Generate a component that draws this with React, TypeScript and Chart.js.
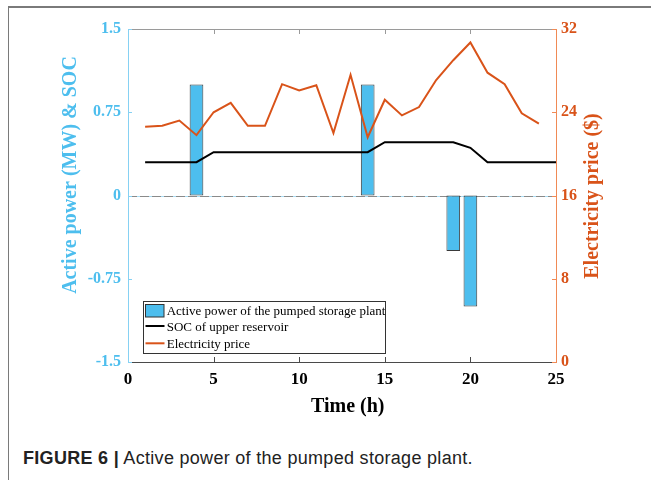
import React, { useEffect, useRef } from "react";
import { Chart, registerables } from "chart.js";

Chart.register(...registerables);

// ---- data ----
const hours = [1, 2, 3, 4, 5, 6, 7, 8, 9, 10, 11, 12, 13, 14, 15, 16, 17, 18, 19, 20, 21, 22, 23, 24];
const socHours = [1, 2, 3, 4, 5, 6, 7, 8, 9, 10, 11, 12, 13, 14, 15, 16, 17, 18, 19, 20, 21, 22, 23, 24, 25];
const power = [0, 0, 0, 1, 0, 0, 0, 0, 0, 0, 0, 0, 0, 1, 0, 0, 0, 0, -0.5, -1, 0, 0, 0, 0];
const soc = [0.3, 0.3, 0.3, 0.3, 0.39, 0.39, 0.39, 0.39, 0.39, 0.39, 0.39, 0.39, 0.39, 0.39, 0.48, 0.48, 0.48, 0.48, 0.48, 0.43, 0.3, 0.3, 0.3, 0.3, 0.3];
const price = [22.6, 22.7, 23.2, 21.8, 24.0, 24.9, 22.7, 22.7, 26.7, 26.1, 26.6, 22.0, 27.6, 21.6, 25.2, 23.7, 24.5, 27.1, 29.0, 30.7, 27.8, 26.7, 23.9, 22.9];

const xTicks = [0, 5, 10, 15, 20, 25];
const leftTicks = [-1.5, -0.75, 0, 0.75, 1.5];
const rightTicks = [0, 8, 16, 24, 32];

const seriesNames = ["Active power of the pumped storage plant", "SOC of upper reservoir", "Electricity price"];
const xTitle = "Time (h)";
const leftTitle = "Active power (MW) & SOC";
const rightTitle = "Electricity price ($)";

// ---- styles ----
const SERIF = "'Liberation Serif', 'Times New Roman', serif";
const BLUE = "#4DBEEE";
const ORANGE = "#D95319";

const framePlugin = {
  id: "frame",
  beforeDatasetsDraw(chart: any) {
    const { ctx, chartArea } = chart;
    const { left, right } = chartArea;
    const y0 = Math.round(chart.scales.y.getPixelForValue(0)) + 0.5;
    ctx.save();
    ctx.lineWidth = 1;
    ctx.strokeStyle = "#a9dcf3";
    ctx.beginPath();
    ctx.moveTo(left, y0);
    ctx.lineTo(right, y0);
    ctx.stroke();
    ctx.setLineDash([9, 3]);
    ctx.strokeStyle = "#8a8a8a";
    ctx.beginPath();
    ctx.moveTo(left, y0);
    ctx.lineTo(right, y0);
    ctx.stroke();
    ctx.restore();
  },
  afterDraw(chart: any) {
    const { ctx, chartArea } = chart;
    const { left, right, top, bottom } = chartArea;
    const sx = chart.scales.x;
    const sy = chart.scales.y;
    const sy1 = chart.scales.y1;
    ctx.save();
    ctx.lineWidth = 1;
    // top border
    ctx.strokeStyle = "#9a9a9a";
    ctx.beginPath();
    ctx.moveTo(left, top + 0.5);
    ctx.lineTo(right, top + 0.5);
    ctx.stroke();
    xTicks.forEach((v) => {
      const px = Math.round(sx.getPixelForValue(v)) + 0.5;
      ctx.beginPath();
      ctx.moveTo(px, top);
      ctx.lineTo(px, top + 5);
      ctx.stroke();
    });
    // bottom border
    ctx.strokeStyle = "#4a4a4a";
    ctx.beginPath();
    ctx.moveTo(left, bottom + 0.5);
    ctx.lineTo(right, bottom + 0.5);
    ctx.stroke();
    xTicks.forEach((v) => {
      const px = Math.round(sx.getPixelForValue(v)) + 0.5;
      ctx.beginPath();
      ctx.moveTo(px, bottom);
      ctx.lineTo(px, bottom - 5);
      ctx.stroke();
    });
    // left axis
    ctx.strokeStyle = "#86d1f3";
    ctx.beginPath();
    ctx.moveTo(left + 0.5, top);
    ctx.lineTo(left + 0.5, bottom + 1);
    ctx.stroke();
    leftTicks.forEach((v) => {
      const py = Math.round(sy.getPixelForValue(v)) + 0.5;
      ctx.beginPath();
      ctx.moveTo(left, py);
      ctx.lineTo(left + 4, py);
      ctx.stroke();
    });
    // right axis
    ctx.strokeStyle = "#f08a55";
    ctx.beginPath();
    ctx.moveTo(right + 0.5, top);
    ctx.lineTo(right + 0.5, bottom + 1);
    ctx.stroke();
    rightTicks.forEach((v) => {
      const py = Math.round(sy1.getPixelForValue(v)) + 0.5;
      ctx.beginPath();
      ctx.moveTo(right, py);
      ctx.lineTo(right - 4, py);
      ctx.stroke();
    });

    // titles
    ctx.font = `bold 20px ${SERIF}`;
    ctx.textAlign = "center";
    ctx.textBaseline = "alphabetic";
    ctx.fillStyle = "#000";
    ctx.fillText(xTitle, 339.7, 403.7);

    ctx.textBaseline = "middle";
    ctx.save();
    ctx.translate(62.5, 167);
    ctx.rotate(-Math.PI / 2);
    ctx.fillStyle = BLUE;
    ctx.fillText(leftTitle, 0, 0);
    ctx.restore();

    ctx.save();
    ctx.translate(585, 188);
    ctx.rotate(-Math.PI / 2);
    ctx.fillStyle = ORANGE;
    ctx.fillText(rightTitle, 0, 0);
    ctx.restore();

    // legend
    const lx = 135, ly = 293, lw = 242, lh = 52;
    ctx.fillStyle = "#fff";
    ctx.fillRect(lx, ly, lw, lh);
    ctx.strokeStyle = "#333";
    ctx.lineWidth = 1;
    ctx.strokeRect(lx + 0.5, ly + 0.5, lw, lh);
    // bar swatch
    ctx.fillStyle = BLUE;
    ctx.fillRect(137.5, 296.5, 18.5, 12.5);
    ctx.strokeStyle = "#333";
    ctx.strokeRect(137.5, 296.5, 18.5, 12.5);
    // line swatches
    ctx.lineWidth = 2;
    ctx.strokeStyle = "#000";
    ctx.beginPath();
    ctx.moveTo(137.5, 318);
    ctx.lineTo(156.5, 318);
    ctx.stroke();
    ctx.strokeStyle = ORANGE;
    ctx.beginPath();
    ctx.moveTo(137.5, 335.3);
    ctx.lineTo(156.5, 335.3);
    ctx.stroke();
    ctx.font = `13px ${SERIF}`;
    ctx.fillStyle = "#000";
    ctx.textAlign = "left";
    ctx.textBaseline = "alphabetic";
    ctx.fillText(seriesNames[0], 158.7, 307);
    ctx.fillText(seriesNames[1], 158.7, 323);
    ctx.fillText(seriesNames[2], 158.7, 339.7);
    ctx.restore();
  },
};

export default function App() {
  const ref = useRef<HTMLCanvasElement>(null);
  useEffect(() => {
    const canvas = ref.current;
    if (!canvas) return;
    const chart = new Chart(canvas, {
      type: "bar",
      data: {
        datasets: [
          {
            type: "line",
            label: seriesNames[2],
            data: hours.map((h, i) => ({ x: h, y: price[i] })),
            borderColor: ORANGE,
            borderWidth: 2,
            pointRadius: 0,
            tension: 0,
            yAxisID: "y1",
            order: 0,
          },
          {
            type: "line",
            label: seriesNames[1],
            data: socHours.map((h, i) => ({ x: h, y: soc[i] })),
            borderColor: "#000",
            borderWidth: 2,
            pointRadius: 0,
            tension: 0,
            yAxisID: "y",
            order: 1,
          },
          {
            type: "bar",
            label: seriesNames[0],
            data: hours.map((h, i) => ({ x: h, y: power[i] === 0 ? null : power[i] })),
            backgroundColor: BLUE,
            borderColor: "#3a3a3a",
            borderWidth: 1,
            borderSkipped: false,
            barPercentage: 0.8,
            categoryPercentage: 1,
            yAxisID: "y",
            order: 2,
          },
        ] as any,
      },
      options: {
        animation: false,
        responsive: false,
        layout: { padding: { top: 21, left: 0, right: 0, bottom: 0 } },
        plugins: { legend: { display: false }, tooltip: { enabled: false } },
        scales: {
          x: {
            type: "linear",
            min: 0,
            max: 25,
            offset: false,
            afterBuildTicks: (a: any) => {
              a.ticks = xTicks.map((v) => ({ value: v }));
            },
            ticks: {
              font: { family: SERIF, size: 17, weight: "bold" },
              color: "#000",
              padding: 7,
              maxRotation: 0,
              autoSkip: false,
            },
            grid: { display: false, drawTicks: false },
            border: { display: false },
            afterFit: (s: any) => {
              s.height = 66;
            },
          },
          y: {
            position: "left",
            min: -1.5,
            max: 1.5,
            afterBuildTicks: (a: any) => {
              a.ticks = leftTicks.map((v) => ({ value: v }));
            },
            ticks: {
              font: { family: SERIF, size: 16, weight: "bold" },
              color: BLUE,
              padding: 7,
              callback: (v: any) => String(v),
            },
            grid: { display: false, drawTicks: false },
            border: { display: false },
            afterFit: (s: any) => {
              s.width = 120;
            },
          },
          y1: {
            position: "right",
            min: 0,
            max: 32,
            afterBuildTicks: (a: any) => {
              a.ticks = rightTicks.map((v) => ({ value: v }));
            },
            ticks: {
              font: { family: SERIF, size: 16, weight: "bold" },
              color: ORANGE,
              padding: 5,
              callback: (v: any) => String(v),
            },
            grid: { display: false, drawTicks: false },
            border: { display: false },
            afterFit: (s: any) => {
              s.width = 87;
            },
          },
        },
      } as any,
      plugins: [framePlugin],
    });
    return () => chart.destroy();
  }, []);

  return (
    <div style={{ position: "relative", width: 635, height: 464 }}>
      <canvas
        ref={ref}
        width={635}
        height={420}
        style={{ position: "absolute", left: 0, top: 0, width: 635, height: 420 }}
      />
      <div
        style={{
          position: "absolute",
          left: 15,
          top: 442,
          fontFamily: "'Liberation Sans', Arial, sans-serif",
          fontSize: 18,
          letterSpacing: "0.3px",
          lineHeight: "17px",
          color: "#222",
          whiteSpace: "nowrap",
        }}
      >
        <b>FIGURE 6 |</b> Active power of the pumped storage plant.
      </div>
      <div
        style={{
          position: "fixed",
          left: 8,
          top: 6,
          width: 700,
          height: 600,
          borderTop: "2px solid #7a7a7a",
          borderLeft: "1px solid #7a7a7a",
          boxSizing: "border-box",
          pointerEvents: "none",
          zIndex: 5,
        }}
      />
    </div>
  );
}
